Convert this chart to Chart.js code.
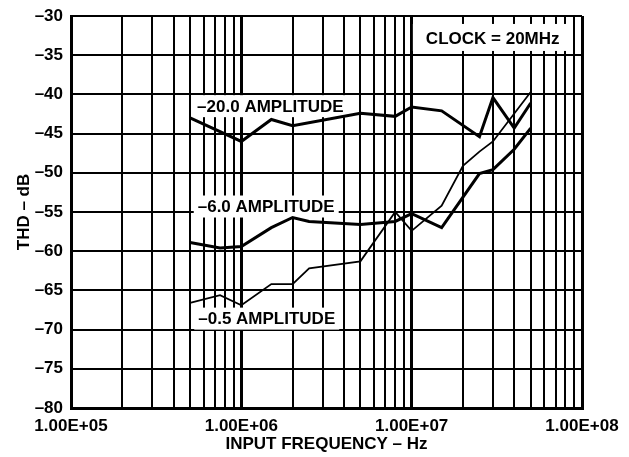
<!DOCTYPE html>
<html>
<head>
<meta charset="utf-8">
<script src="https://cdn.jsdelivr.net/npm/chart.js@4"></script>
<style>
  html, body { margin: 0; padding: 0; background: #fff; }
  #wrap { width: 629px; height: 457px; }
</style>
</head>
<body>
<div id="wrap"><canvas id="c" width="629" height="457"></canvas></div>
<script>
// ---- data ----
const freq20 = [5e5, 1e6, 1.5e6, 2e6, 5e6, 8e6, 1e7, 1.5e7, 2.5e7, 3e7, 4e7, 5e7];
const thd20  = [-43.0, -46.0, -43.2, -44.0, -42.4, -42.8, -41.6, -42.1, -45.4, -40.4, -44.3, -41.1];

const freq6  = [5e5, 7.5e5, 1e6, 1.5e6, 2e6, 2.5e6, 5e6, 8e6, 1e7, 1.5e7, 2.5e7, 3e7, 4e7, 5e7];
const thd6   = [-58.9, -59.6, -59.4, -57.0, -55.7, -56.2, -56.6, -56.2, -55.2, -57.0, -50.1, -49.6, -47.0, -44.3];

const freq05 = [5e5, 7.5e5, 1e6, 1.5e6, 2e6, 2.5e6, 5e6, 8e6, 1e7, 1.5e7, 2e7, 2.5e7, 3e7, 5e7];
const thd05  = [-66.6, -65.6, -66.9, -64.2, -64.2, -62.2, -61.3, -55.0, -57.4, -54.2, -49.1, -47.3, -46.0, -39.7];

const xTickValues = [1e5, 1e6, 1e7, 1e8];
const xTickLabels = ['1.00E+05', '1.00E+06', '1.00E+07', '1.00E+08'];
const yTickValues = [-80, -75, -70, -65, -60, -55, -50, -45, -40, -35, -30];
const yTickLabels = ['\u201380', '\u201375', '\u201370', '\u201365', '\u201360', '\u201355', '\u201350', '\u201345', '\u201340', '\u201335', '\u201330'];

const seriesNames = ['\u201320.0 AMPLITUDE', '\u20136.0 AMPLITUDE', '\u20130.5 AMPLITUDE'];
const labelFreq = [1.48e6, 1.40e6, 1.41e6];
const labelThd  = [-41.5, -54.3, -68.6];
const clockText = 'CLOCK = 20MHz';
const clockFreq = 2.99e7;
const clockThd  = -32.8;

const xTitle = 'INPUT FREQUENCY \u2013 Hz';
const yTitle = 'THD \u2013 dB';

// ---- helpers ----
const toPts = (xs, ys) => xs.map((x, i) => ({ x: x, y: ys[i] }));
const FONT = '"Liberation Sans", Arial, sans-serif';
const FS = 17;
const isDecade = v => Math.abs(Math.log10(v) - Math.round(Math.log10(v))) < 1e-9;

// all 1..9 x 10^n grid values between the decades
const minorGrid = [];
for (let d = 0; d < xTickValues.length; d++) {
  const base = xTickValues[d];
  if (d === xTickValues.length - 1) { minorGrid.push(base); break; }
  for (let m = 1; m <= 9; m++) minorGrid.push(m * base);
}

const labelPlugin = {
  id: 'labels',
  beforeDatasetsDraw(chart) {
    const ctx = chart.ctx;
    const xs = chart.scales.x, ys = chart.scales.y;
    ctx.save();
    ctx.font = 'bold ' + FS + 'px ' + FONT;
    ctx.textBaseline = 'middle';
    ctx.textAlign = 'center';
    for (let i = 0; i < seriesNames.length; i++) {
      const px = xs.getPixelForValue(labelFreq[i]);
      const py = ys.getPixelForValue(labelThd[i]);
      const w = ctx.measureText(seriesNames[i]).width + 8;
      ctx.fillStyle = '#fff';
      ctx.fillRect(px - w / 2, py - 11, w, 22);
      ctx.fillStyle = '#000';
      ctx.fillText(seriesNames[i], px, py + 1);
    }
    // clock box
    const cx = xs.getPixelForValue(clockFreq);
    const cy = ys.getPixelForValue(clockThd);
    const cw = ctx.measureText(clockText).width + 26;
    ctx.fillStyle = '#fff';
    ctx.fillRect(cx - cw / 2, cy - 14, cw, 27);
    ctx.fillStyle = '#000';
    ctx.fillText(clockText, cx, cy + 1);
    ctx.restore();
  }
};

new Chart(document.getElementById('c'), {
  type: 'line',
  data: {
    datasets: [
      { label: seriesNames[0], data: toPts(freq20, thd20), borderColor: '#000', borderWidth: 3, pointRadius: 0, tension: 0, fill: false },
      { label: seriesNames[1], data: toPts(freq6, thd6), borderColor: '#000', borderWidth: 3, pointRadius: 0, tension: 0, fill: false },
      { label: seriesNames[2], data: toPts(freq05, thd05), borderColor: '#000', borderWidth: 1.8, pointRadius: 0, tension: 0, fill: false }
    ]
  },
  options: {
    responsive: false,
    animation: false,
    events: [],
    layout: { padding: { left: 0, right: 47, top: 16, bottom: 0 } },
    plugins: { legend: { display: false }, tooltip: { enabled: false } },
    scales: {
      x: {
        type: 'logarithmic',
        min: xTickValues[0],
        max: xTickValues[xTickValues.length - 1],
        afterBuildTicks(scale) { scale.ticks = minorGrid.map(v => ({ value: v, major: isDecade(v) })); },
        afterFit(scale) { scale.height = 49; scale.paddingLeft = 0; scale.paddingRight = 0; },
        border: { display: true, color: '#000', width: 3 },
        grid: {
          color: '#000',
          lineWidth: ctx => (ctx.tick && isDecade(ctx.tick.value)) ? 3 : 2,
          drawTicks: false
        },
        ticks: {
          autoSkip: false,
          maxRotation: 0,
          padding: 8,
          color: '#000',
          font: { family: FONT, size: FS, weight: 'bold' },
          callback(v) { const i = xTickValues.findIndex(t => Math.abs(t - v) / t < 1e-9); return i >= 0 ? xTickLabels[i] : ''; }
        },
        title: { display: true, text: xTitle, color: '#000', font: { family: FONT, size: FS, weight: 'bold' }, padding: { top: 0, bottom: 2 } }
      },
      y: {
        type: 'linear',
        min: yTickValues[0],
        max: yTickValues[yTickValues.length - 1],
        afterBuildTicks(scale) { scale.ticks = yTickValues.map(v => ({ value: v })); },
        afterFit(scale) { scale.width = 71; scale.paddingTop = 0; scale.paddingBottom = 0; },
        border: { display: true, color: '#000', width: 3 },
        grid: { color: '#000', lineWidth: 2, drawTicks: false },
        ticks: {
          padding: 8,
          color: '#000',
          font: { family: FONT, size: FS, weight: 'bold' },
          callback(v) { const i = yTickValues.indexOf(v); return i >= 0 ? yTickLabels[i] : ''; }
        },
        title: { display: true, text: yTitle, color: '#000', font: { family: FONT, size: FS, weight: 'bold' }, padding: { top: 14, bottom: 0 } }
      }
    }
  },
  plugins: [labelPlugin]
});
</script>
</body>
</html>
